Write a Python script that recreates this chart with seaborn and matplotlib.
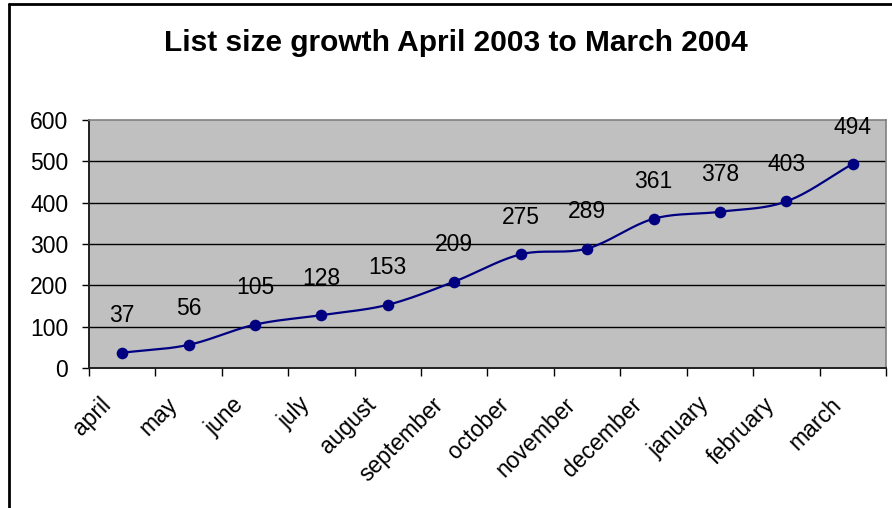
import numpy as np
import pandas as pd
import matplotlib
matplotlib.use("Agg")
import matplotlib.pyplot as plt
import matplotlib.transforms as mtransforms
import seaborn as sns

months = ["april", "may", "june", "july", "august", "september", "october",
          "november", "december", "january", "february", "march"]
sizes = [37, 56, 105, 128, 153, 209, 275, 289, 361, 378, 403, 494]
title = "List size growth April 2003 to March 2004"
yticks = [0, 100, 200, 300, 400, 500, 600]

sns.set_theme(style="white")
plt.rcParams["font.family"] = ["Liberation Sans", "DejaVu Sans"]
plt.rcParams["text.color"] = "black"
plt.rcParams["xtick.color"] = "black"
plt.rcParams["ytick.color"] = "black"

df = pd.DataFrame({"month": months, "size": sizes})
df["pos"] = np.arange(len(months))

# Catmull-Rom smoothing (Excel-like smoothed line) computed from data
def catmull(x, y, n=20):
    px = np.concatenate([[2 * x[0] - x[1]], x, [2 * x[-1] - x[-2]]])
    py = np.concatenate([[2 * y[0] - y[1]], y, [2 * y[-1] - y[-2]]])
    xs, ys = [], []
    for i in range(1, len(px) - 2):
        t = np.linspace(0, 1, n, endpoint=False)
        for arr, out in ((px, xs), (py, ys)):
            p0, p1, p2, p3 = arr[i - 1], arr[i], arr[i + 1], arr[i + 2]
            c1 = p1 + (p2 - p0) / 6
            c2 = p2 - (p3 - p1) / 6
            out.extend((1 - t) ** 3 * p1 + 3 * (1 - t) ** 2 * t * c1
                       + 3 * (1 - t) * t ** 2 * c2 + t ** 3 * p2)
    xs.append(x[-1]); ys.append(y[-1])
    return np.array(xs), np.array(ys)

sx, sy = catmull(df["pos"].values.astype(float), df["size"].values.astype(float))
smooth = pd.DataFrame({"x": sx, "y": sy})

FS = 16.5

fig = plt.figure(figsize=(8.92, 5.08), dpi=100)
ax = fig.add_axes([89 / 892, 1 - 368 / 508, (886 - 89) / 892, (368 - 120) / 508])
ax.set_facecolor("#c0c0c0")

sns.lineplot(data=smooth, x="x", y="y", ax=ax, color="#000080", lw=1.6,
             sort=False, estimator=None)
sns.scatterplot(data=df, x="pos", y="size", ax=ax, color="#000080", s=70,
                edgecolor="#000080", linewidth=0, zorder=5)

for p, v in zip(df["pos"], df["size"]):
    ax.annotate(str(v), (p, v), xytext=(0, 26.5), textcoords="offset points",
                ha="center", va="center", fontsize=FS, color="black")

ax.set_xlim(-0.5, len(months) - 0.5)
ax.set_ylim(0, 600)
ax.set_yticks(yticks)
ax.set_yticklabels([str(t) for t in yticks], fontsize=FS)
for t in yticks[1:-1]:
    ax.axhline(t, color="black", lw=1, zorder=1)

ax.set_xticks(df["pos"])
ax.set_xticklabels(months, rotation=45, ha="right", rotation_mode="anchor",
                   fontsize=FS)
ax.tick_params(axis="x", length=0, pad=10)
ax.set_xticks(np.arange(len(months) + 1) - 0.5, minor=True)
ax.tick_params(axis="x", which="minor", length=6, color="black", width=1,
               direction="out", bottom=True)
ax.tick_params(axis="y", length=5, width=1, color="black", direction="out",
               left=True, pad=10)
ax.set_xlabel("")
ax.set_ylabel("")

shift = mtransforms.ScaledTranslation(-23 / 100, -11 / 100, fig.dpi_scale_trans)
for lab in ax.get_xticklabels():
    lab.set_transform(lab.get_transform() + shift)

for side in ("top", "right"):
    ax.spines[side].set_color("#808080")
    ax.spines[side].set_linewidth(1.2)
for side in ("left", "bottom"):
    ax.spines[side].set_color("#202020")
    ax.spines[side].set_linewidth(1.4)

fig.text(456 / 892, 1 - 43 / 508, title, ha="center", va="center",
         fontsize=21.5, fontweight="bold", color="black")

# chart frame (left, top edges)
fig.add_artist(plt.Line2D([8.5 / 892, 8.5 / 892], [0, 1 - 4 / 508],
                          transform=fig.transFigure, color="black", lw=2))
fig.add_artist(plt.Line2D([8.5 / 892, 1], [1 - 4 / 508, 1 - 4 / 508],
                          transform=fig.transFigure, color="black", lw=2))

fig.savefig("out.png", dpi=100)
